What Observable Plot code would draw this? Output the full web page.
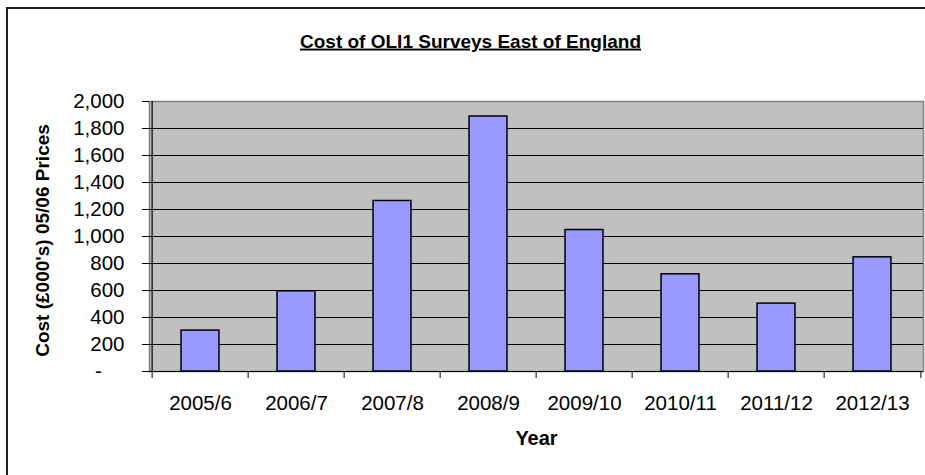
<!DOCTYPE html>
<html><head><meta charset="utf-8">
<script src="https://cdn.jsdelivr.net/npm/d3@7"></script>
<script src="https://cdn.jsdelivr.net/npm/@observablehq/plot@0.6"></script>
<style>
html,body{margin:0;padding:0;background:#fff;overflow:hidden;}
#wrap{position:relative;width:925px;height:475px;overflow:hidden;background:#fff;}
#border{position:absolute;left:6px;top:7px;width:1000px;height:1000px;border:2px solid #1e1e1e;pointer-events:none;}
</style></head><body>
<div id="wrap"><div id="chart"></div><div id="border"></div></div>
<script>
const years = ["2005/6","2006/7","2007/8","2008/9","2009/10","2010/11","2011/12","2012/13"];
const costs = [303, 594, 1263, 1889, 1048, 720, 503, 846];
const yTicks = [0,200,400,600,800,1000,1200,1400,1600,1800,2000];
const title = "Cost of OLI1 Surveys East of England";
const yLabel = "Cost (£000's) 05/06 Prices";
const xLabel = "Year";

const data = years.map((year,i)=>({year, cost: costs[i]}));
const W=925,H=475,mL=149,mR=2,mT=101,mB=104;
const bw = (W-mL-mR)/years.length;
const font = "'Liberation Sans', Arial, Helvetica, sans-serif";

const plot = Plot.plot({
  width:W,height:H,marginLeft:mL,marginRight:mR,marginTop:mT,marginBottom:mB,
  style:{fontFamily:font,fontSize:"20px",color:"#000",background:"transparent",overflow:"visible"},
  x:{domain:years,padding:0,label:null},
  y:{domain:[0,2000],label:null},
  marks:[
    Plot.frame({fill:"#C0C0C0",stroke:"#808080",strokeWidth:1.5}),
    Plot.gridY(yTicks.filter(t=>t>0&&t<2000),{stroke:"#000",strokeOpacity:1,strokeWidth:1}),
    Plot.barY(data,{x:"year",y:"cost",fill:"#9999FF",stroke:"#000",strokeWidth:1.5,insetLeft:bw*0.3,insetRight:bw*0.3}),
    Plot.ruleY([0],{stroke:"#000",strokeWidth:1.2}),
    Plot.ruleX([years[0]],{dx:-bw/2,stroke:"#000",strokeWidth:1.2}),
    Plot.axisY({ticks:yTicks,tickSize:7,tickPadding:18,tickFormat:d=>d===0?"-\u00a0\u00a0\u00a0\u00a0":d3.format(",")(d),fontSize:20.5,label:null}),
    Plot.axisX({tickSize:0,tickPadding:24,fontSize:20.5,label:null}),
    Plot.axisX({tickSize:7,dx:-bw/2,tickFormat:()=>"",label:null}),
    Plot.axisX({ticks:[years[years.length-1]],tickSize:7,dx:bw/2,tickFormat:()=>"",label:null}),
    Plot.text([title],{frameAnchor:"top",lineAnchor:"middle",textAnchor:"middle",dx:-66,dy:-60,fontWeight:"bold",fontSize:19,text:d=>d}),
    Plot.text([xLabel],{frameAnchor:"bottom",lineAnchor:"middle",textAnchor:"middle",dy:67,fontWeight:"bold",fontSize:20,text:d=>d}),
    Plot.text([yLabel],{frameAnchor:"left",lineAnchor:"middle",textAnchor:"middle",dx:-107,dy:4,rotate:-90,fontWeight:"bold",fontSize:19,text:d=>d})
  ]
});
d3.select(plot).selectAll("text").filter(function(){return this.textContent===title;}).style("text-decoration","underline");
document.getElementById("chart").appendChild(plot);
</script>
</body></html>
